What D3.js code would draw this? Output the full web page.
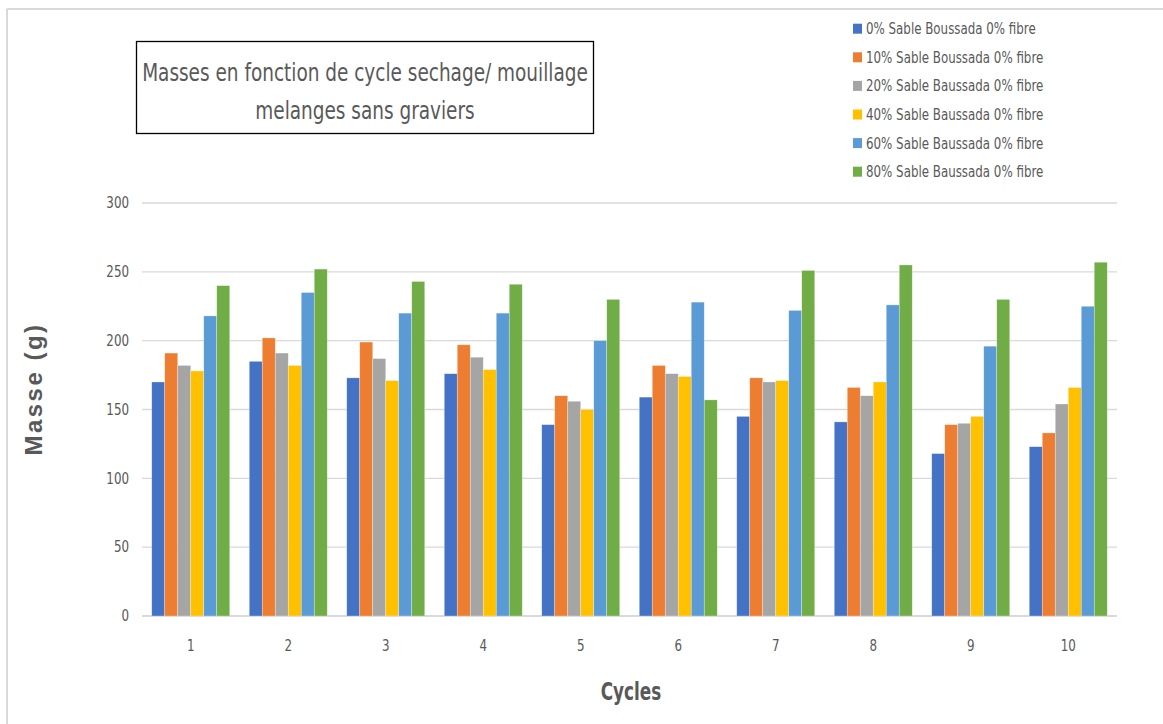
<!DOCTYPE html>
<html>
<head>
<meta charset="utf-8">
<script src="https://cdn.jsdelivr.net/npm/d3@7"></script>
<style>
  body { margin: 0; background: #fff; }
  text { font-family: "Liberation Sans Narrow", "DejaVu Sans Condensed", sans-serif; }
</style>
</head>
<body>
<script>
// data
var cycles = ["1","2","3","4","5","6","7","8","9","10"];
var seriesNames = [
    "0% Sable Boussada 0% fibre",
    "10% Sable Boussada 0% fibre",
    "20% Sable Baussada 0% fibre",
    "40% Sable Baussada 0% fibre",
    "60% Sable Baussada 0% fibre",
    "80% Sable Baussada 0% fibre"
];
var colours = ["#4472C4", "#ED7D31", "#A5A5A5", "#FFC000", "#5B9BD5", "#70AD47"];
var sable0  = [170, 185, 173, 176, 139, 159, 145, 141, 118, 123];
var sable10 = [191, 202, 199, 197, 160, 182, 173, 166, 139, 133];
var sable20 = [182, 191, 187, 188, 156, 176, 170, 160, 140, 154];
var sable40 = [178, 182, 171, 179, 150, 174, 171, 170, 145, 166];
var sable60 = [218, 235, 220, 220, 200, 228, 222, 226, 196, 225];
var sable80 = [240, 252, 243, 241, 230, 157, 251, 255, 230, 257];
var yTicks = [0, 50, 100, 150, 200, 250, 300];

var allSeries = [sable0, sable10, sable20, sable40, sable60, sable80];

const width = 1163;
const height = 724;
const plotLeft = 142, plotRight = 1117, plotTop = 203, plotBottom = 616;

// the picture uses a narrow font; squeeze our text to match its width
function squeeze(sel, factor) {
    sel.each(function() {
        let len = this.getComputedTextLength();
        d3.select(this)
            .attr('textLength', len * factor)
            .attr('lengthAdjust', 'spacingAndGlyphs');
    });
}

let svg = d3.select('body')
            .append('svg')
            .attr('width', width)
            .attr('height', height);

// frame (only top and left edges visible in the picture)
svg.append('line').attr('x1', 7).attr('x2', width).attr('y1', 9).attr('y2', 9)
    .attr('stroke', '#d9d9d9').attr('stroke-width', 2);
svg.append('line').attr('x1', 7).attr('x2', 7).attr('y1', 9).attr('y2', height)
    .attr('stroke', '#d9d9d9').attr('stroke-width', 2);

const xScale = d3.scaleBand()
                .domain(cycles)
                .range([plotLeft, plotRight])
                .paddingInner(0.2)
                .paddingOuter(0.1);

const xSub = d3.scaleBand()
                .domain(d3.range(allSeries.length))
                .range([0, xScale.bandwidth()]);

const yScale = d3.scaleLinear()
                .domain([0, 300])
                .range([plotBottom, plotTop]);

// gridlines
svg.append('g')
    .selectAll('line')
    .data(yTicks)
    .enter()
    .append('line')
        .attr('x1', plotLeft)
        .attr('x2', plotRight)
        .attr('y1', d => yScale(d))
        .attr('y2', d => yScale(d))
        .attr('stroke', '#d9d9d9')
        .attr('stroke-width', d => d == 0 ? 1.8 : 1.3);

// y-axis labels
let yAxis = svg.append('g')
    .attr('transform', `translate(${plotLeft}, 0)`)
    .call(d3.axisLeft(yScale).tickValues(yTicks).tickSize(0).tickPadding(13));
yAxis.select('.domain').remove();
yAxis.selectAll('text')
    .attr('font-size', 15)
    .attr('fill', '#595959')
    .attr('font-family', '"Liberation Sans Narrow", "DejaVu Sans Condensed", sans-serif');
squeeze(yAxis.selectAll('text'), 0.88);

// x-axis labels
let xAxis = svg.append('g')
    .attr('transform', `translate(0, ${plotBottom})`)
    .call(d3.axisBottom(xScale).tickSize(0).tickPadding(24));
xAxis.select('.domain').remove();
xAxis.selectAll('text')
    .attr('font-size', 15)
    .attr('fill', '#595959')
    .attr('font-family', '"Liberation Sans Narrow", "DejaVu Sans Condensed", sans-serif');
squeeze(xAxis.selectAll('text'), 0.88);

// bars
let groups = svg.append('g')
    .selectAll('g')
    .data(allSeries)
    .enter()
    .append('g')
        .attr('fill', (d, i) => colours[i]);

groups.selectAll('rect')
    .data((vals, i) => vals.map((v, j) => ({cycle: cycles[j], value: v, s: i})))
    .enter()
    .append('rect')
        .attr('x', d => xScale(d.cycle) + xSub(d.s))
        .attr('y', d => yScale(d.value))
        .attr('width', xSub.bandwidth())
        .attr('height', d => plotBottom - yScale(d.value))
        .attr('stroke', '#ffffff')
        .attr('stroke-opacity', 0.5)
        .attr('stroke-width', 0.6);

// title box
svg.append('rect')
    .attr('x', 136.5)
    .attr('y', 41.5)
    .attr('width', 457)
    .attr('height', 92)
    .attr('fill', '#fff')
    .attr('stroke', '#000')
    .attr('stroke-width', 1.3);

let title1 = svg.append('text')
    .attr('x', 365)
    .attr('y', 81)
    .attr('text-anchor', 'middle')
    .attr('font-size', 24)
    .attr('fill', '#595959')
    .text('Masses en fonction de cycle sechage/ mouillage');

let title2 = svg.append('text')
    .attr('x', 365)
    .attr('y', 119)
    .attr('text-anchor', 'middle')
    .attr('font-size', 24)
    .attr('fill', '#595959')
    .text('melanges sans graviers');
squeeze(title1, 0.855);
squeeze(title2, 0.855);

// axis titles
svg.append('text')
    .attr('transform', 'translate(42, 389) rotate(-90)')
    .attr('text-anchor', 'middle')
    .attr('font-size', 24)
    .attr('font-weight', 'bold')
    .attr('letter-spacing', 2.5)
    .attr('fill', '#595959')
    .style('font-family', '"Liberation Sans", Arial, sans-serif')
    .text('Masse (g)');

let cyclesLabel = svg.append('text')
    .attr('x', 631)
    .attr('y', 700)
    .attr('text-anchor', 'middle')
    .attr('font-size', 24)
    .attr('font-weight', 'bold')
    .attr('fill', '#595959')
    .text('Cycles');
squeeze(cyclesLabel, 0.78);

// legend
let legend = svg.append('g')
    .selectAll('g')
    .data(seriesNames)
    .enter()
    .append('g')
        .attr('transform', (d, i) => `translate(853, ${28.7 + i * 28.6})`);

legend.append('rect')
    .attr('x', 0)
    .attr('y', -5)
    .attr('width', 9)
    .attr('height', 10)
    .attr('fill', (d, i) => colours[i]);

let legendText = legend.append('text')
    .attr('x', 13)
    .attr('y', 5.5)
    .attr('font-size', 15.5)
    .attr('fill', '#595959')
    .text(d => d);
squeeze(legendText, 0.85);
</script>
</body>
</html>
